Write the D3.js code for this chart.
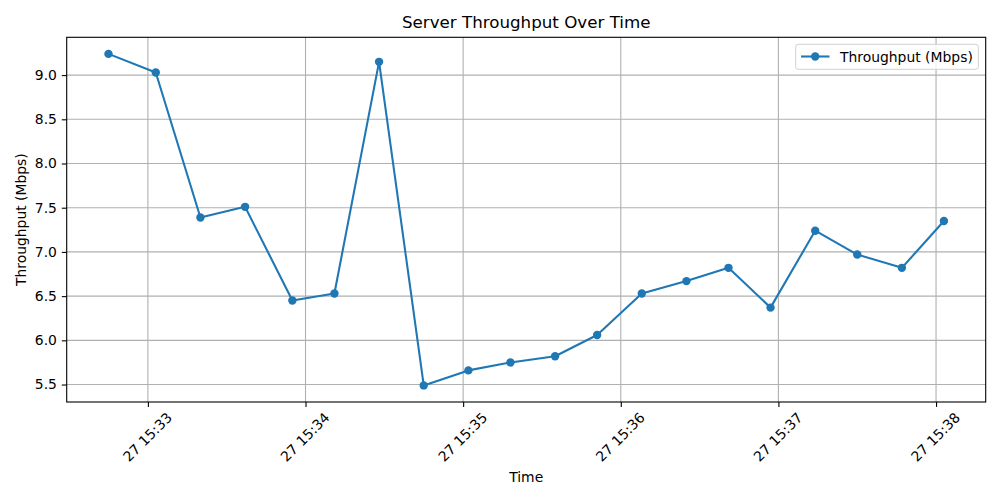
<!DOCTYPE html>
<html>
<head>
<meta charset="utf-8">
<script src="https://cdn.jsdelivr.net/npm/d3@7"></script>
<style>
  body { margin: 0; background: #fff; }
  svg { display: block; font-family: "DejaVu Sans", sans-serif; }
</style>
</head>
<body>
<svg id="chart" width="1000" height="500"></svg>
<script>
const times = [
  "2023-10-27 15:32:45", "2023-10-27 15:33:03", "2023-10-27 15:33:20", "2023-10-27 15:33:37",
  "2023-10-27 15:33:55", "2023-10-27 15:34:11", "2023-10-27 15:34:28", "2023-10-27 15:34:45",
  "2023-10-27 15:35:02", "2023-10-27 15:35:18", "2023-10-27 15:35:35", "2023-10-27 15:35:51",
  "2023-10-27 15:36:08", "2023-10-27 15:36:25", "2023-10-27 15:36:41", "2023-10-27 15:36:57",
  "2023-10-27 15:37:14", "2023-10-27 15:37:30", "2023-10-27 15:37:47", "2023-10-27 15:38:03"
];
const throughput = [
  9.24, 9.03, 7.39, 7.51, 6.45, 6.53, 9.15, 5.49, 5.66, 5.75,
  5.82, 6.06, 6.53, 6.67, 6.82, 6.37, 7.24, 6.97, 6.82, 7.35
];
const yTicks = [5.5, 6.0, 6.5, 7.0, 7.5, 8.0, 8.5, 9.0];
const seriesName = "Throughput (Mbps)";
const titleText = "Server Throughput Over Time";
const xLabel = "Time";
const yLabel = "Throughput (Mbps)";

const parse = d3.timeParse("%Y-%m-%d %H:%M:%S");
const data = times.map((t, i) => ({ t: parse(t), v: throughput[i] }));

const L = 66.7, R = 985.7, T = 37.3, B = 402;
const svg = d3.select("#chart");
const color = "#1f77b4";

// matplotlib-style 5% margins
const tExt = d3.extent(data, d => d.t);
const tPad = (tExt[1] - tExt[0]) * 0.05;
const vExt = d3.extent(data, d => d.v);
const vPad = (vExt[1] - vExt[0]) * 0.05;

const x = d3.scaleTime()
  .domain([new Date(+tExt[0] - tPad), new Date(+tExt[1] + tPad)])
  .range([L, R]);
const y = d3.scaleLinear()
  .domain([vExt[0] - vPad, vExt[1] + vPad])
  .range([B, T]);

const xTickVals = x.ticks(d3.timeMinute.every(1));

// grid
const grid = svg.append("g");
grid.selectAll("line.gx").data(xTickVals).join("line")
  .attr("x1", d => x(d)).attr("x2", d => x(d))
  .attr("y1", T).attr("y2", B)
  .attr("stroke", "#b0b0b0").attr("stroke-width", 1.1);
grid.selectAll("line.gy").data(yTicks).join("line")
  .attr("x1", L).attr("x2", R)
  .attr("y1", d => y(d)).attr("y2", d => y(d))
  .attr("stroke", "#b0b0b0").attr("stroke-width", 1.1);

// axes
const fmt = d3.timeFormat("%d %H:%M");
const xAxis = svg.append("g")
  .attr("transform", `translate(0,${B})`)
  .call(d3.axisBottom(x).tickValues(xTickVals).tickSize(4.9).tickSizeOuter(0).tickFormat(fmt));
xAxis.select(".domain").remove();
xAxis.selectAll(".tick line").attr("stroke", "#000").attr("stroke-width", 1.1);
xAxis.selectAll(".tick text")
  .attr("font-size", 13.9).attr("fill", "#000")
  .attr("font-family", "DejaVu Sans")
  .attr("y", null).attr("dy", null)
  .attr("text-anchor", "middle")
  .attr("dominant-baseline", "central")
  .attr("transform", "translate(-1,35) rotate(-45)");

const yAxis = svg.append("g")
  .attr("transform", `translate(${L},0)`)
  .call(d3.axisLeft(y).tickValues(yTicks).tickSize(4.9).tickSizeOuter(0).tickPadding(4.9).tickFormat(d3.format(".1f")));
yAxis.select(".domain").remove();
yAxis.selectAll(".tick line").attr("stroke", "#000").attr("stroke-width", 1.1);
yAxis.selectAll(".tick text")
  .attr("font-size", 13.9).attr("fill", "#000")
  .attr("font-family", "DejaVu Sans");

// frame
svg.append("rect")
  .attr("x", L).attr("y", T).attr("width", R - L).attr("height", B - T)
  .attr("fill", "none").attr("stroke", "#000").attr("stroke-width", 1.1);

// line
const line = d3.line().x(d => x(d.t)).y(d => y(d.v));
svg.append("path").datum(data)
  .attr("d", line).attr("fill", "none")
  .attr("stroke", color).attr("stroke-width", 2.08)
  .attr("stroke-linejoin", "round");
svg.append("g").selectAll("circle").data(data).join("circle")
  .attr("cx", d => x(d.t)).attr("cy", d => y(d.v))
  .attr("r", 4.2).attr("fill", color);

// title and labels
svg.append("text")
  .attr("x", (L + R) / 2).attr("y", 28)
  .attr("text-anchor", "middle").attr("font-size", 16.7).attr("fill", "#000")
  .text(titleText);
svg.append("text")
  .attr("x", (L + R) / 2).attr("y", 482)
  .attr("text-anchor", "middle").attr("font-size", 13.9).attr("fill", "#000")
  .text(xLabel);
svg.append("text")
  .attr("transform", `translate(26,${(T + B) / 2}) rotate(-90)`)
  .attr("text-anchor", "middle").attr("font-size", 13.9).attr("fill", "#000")
  .text(yLabel);

// legend
const lg = svg.append("g");
lg.append("rect")
  .attr("x", 795.7).attr("y", 44.3).attr("width", 182.6).attr("height", 25)
  .attr("rx", 2.5).attr("fill", "#fff").attr("fill-opacity", 0.8)
  .attr("stroke", "#d0d0d0").attr("stroke-width", 1);
lg.append("line")
  .attr("x1", 801).attr("x2", 829.5).attr("y1", 56.5).attr("y2", 56.5)
  .attr("stroke", color).attr("stroke-width", 2.08);
lg.append("circle").attr("cx", 815.2).attr("cy", 56.5).attr("r", 4.2).attr("fill", color);
lg.append("text")
  .attr("x", 840).attr("y", 56.5).attr("dominant-baseline", "central")
  .attr("font-size", 13.9).attr("fill", "#000")
  .text(seriesName);
</script>
</body>
</html>
